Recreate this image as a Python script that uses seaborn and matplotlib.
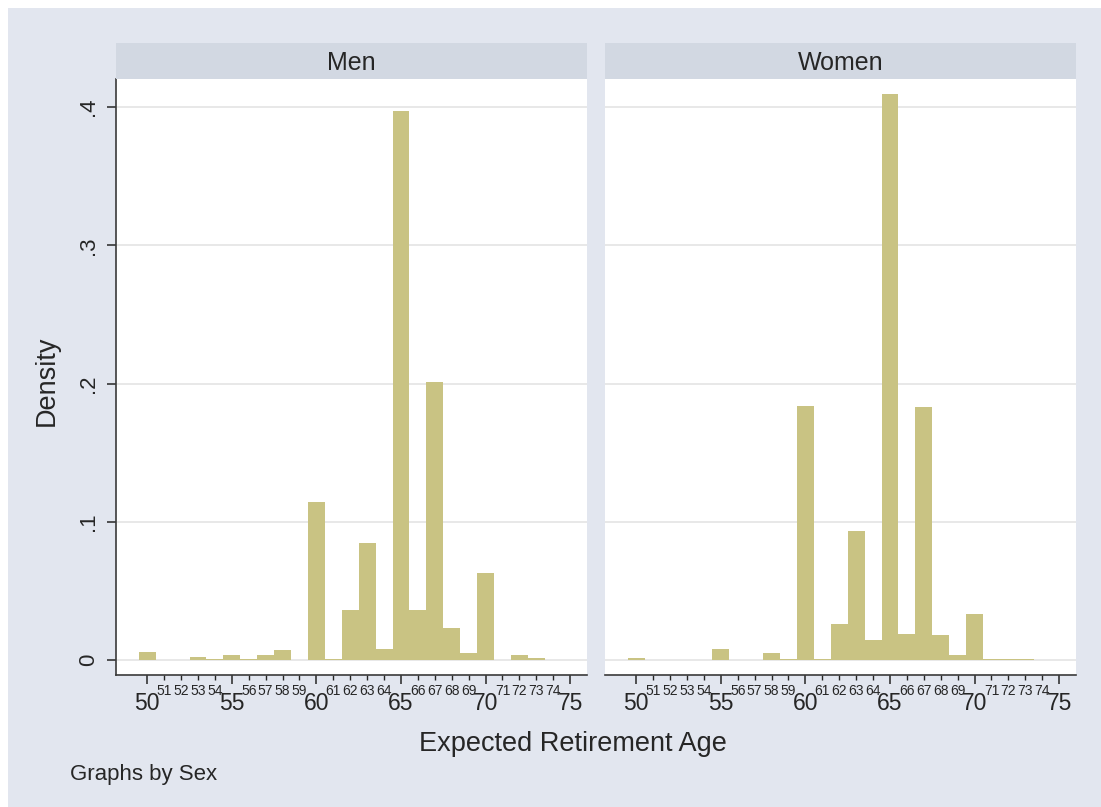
import numpy as np
import pandas as pd
import matplotlib
matplotlib.use("Agg")
import matplotlib.pyplot as plt
import seaborn as sns
from matplotlib.patches import Rectangle

# --- data (density per one-year bin) ---
ages = list(range(50, 76))
men = [0.0056, 0, 0, 0.002, 0.0007, 0.004, 0.001, 0.004, 0.0075, 0,
       0.1145, 0.001, 0.0362, 0.0849, 0.0078, 0.397, 0.0362, 0.2013, 0.023, 0.0053,
       0.0627, 0, 0.004, 0.0017, 0, 0]
women = [0.0012, 0, 0, 0, 0, 0.008, 0, 0, 0.005, 0.0005,
         0.1837, 0.001, 0.026, 0.0933, 0.0145, 0.4094, 0.0186, 0.1832, 0.018, 0.0036,
         0.033, 0.001, 0.001, 0.001, 0, 0]
panels = ["Men", "Women"]
major_ticks = [50, 55, 60, 65, 70, 75]
minor_ticks = [a for a in ages if a % 5 != 0]
y_ticks = [0, 0.1, 0.2, 0.3, 0.4]
y_labels = ["0", ".1", ".2", ".3", ".4"]

df = pd.DataFrame({
    "age": ages * 2,
    "density": men + women,
    "sex": ["Men"] * len(ages) + ["Women"] * len(ages),
})

sns.set_style("white")
plt.rcParams["font.family"] = ["Liberation Sans", "DejaVu Sans"]

W, H = 1101, 807
bg = "#e2e6ef"
strip_col = "#d2d8e2"
bar_col = "#c9c383"
ink = "#262626"

fig = plt.figure(figsize=(W / 100, H / 100), dpi=100)
fig.patch.set_facecolor("white")
fig.patches.append(Rectangle((8 / W, 0), 1 - 8 / W, 1 - 8 / H, transform=fig.transFigure,
                             facecolor=bg, edgecolor="none", zorder=-10))

lefts = [116 / W, 605 / W]
width = 471 / W
bottom = 132 / H
height = 596 / H

for i, name in enumerate(panels):
    ax = fig.add_axes([lefts[i], bottom, width, height])
    ax.set_facecolor("white")
    sub = df[df["sex"] == name]
    sns.histplot(data=sub, x="age", weights="density", discrete=True, ax=ax,
                 color=bar_col, alpha=1, linewidth=0, zorder=3)
    ax.set_xlim(48.15, 76.0)
    ax.set_ylim(-0.0108, 0.4203)
    ax.set_xlabel("")
    ax.set_ylabel("")

    for y in y_ticks:
        ax.axhline(y, color="#e6e6e6", linewidth=1.3, zorder=1)

    ax.set_xticks(major_ticks, [str(t) for t in major_ticks])
    ax.set_xticks(minor_ticks, [str(t) for t in minor_ticks], minor=True)
    ax.tick_params(axis="x", which="major", labelsize=16.5, length=6.5, width=1.1,
                   pad=6, colors=ink, direction="out", bottom=True)
    ax.tick_params(axis="x", which="minor", labelsize=10, length=3.6, width=1.0,
                   pad=3, colors=ink, direction="out", bottom=True)

    for s in ["top", "right"]:
        ax.spines[s].set_visible(False)
    ax.spines["bottom"].set_color("#3a3a3a")
    ax.spines["bottom"].set_linewidth(1.2)

    if i == 0:
        ax.set_yticks(y_ticks, y_labels)
        ax.tick_params(axis="y", labelsize=16, length=6.5, width=1.1, pad=6,
                       colors=ink, direction="out", left=True, labelrotation=90)
        for lab in ax.get_yticklabels():
            lab.set_va("center")
        ax.spines["left"].set_color("#3a3a3a")
        ax.spines["left"].set_linewidth(1.2)
    else:
        ax.set_yticks(y_ticks, [""] * len(y_ticks))
        ax.tick_params(axis="y", length=0)
        ax.spines["left"].set_visible(False)

    # strip header
    sx = fig.add_axes([lefts[i], 728 / H, width, 36 / H])
    sx.set_facecolor(strip_col)
    sx.set_xticks([])
    sx.set_yticks([])
    for s in sx.spines.values():
        s.set_visible(False)
    fig.text(lefts[i] + width / 2, (H - 70) / H, name, ha="center", va="baseline",
             fontsize=18, color=ink)

fig.text(47 / W, (H - 380.5) / H, "Density", rotation=90, ha="center", va="center",
         fontsize=19.5, color=ink)
fig.text(573 / W, (H - 751) / H, "Expected Retirement Age", ha="center", va="baseline",
         fontsize=19.5, color=ink)
fig.text(70 / W, (H - 780) / H, "Graphs by Sex", ha="left", va="baseline",
         fontsize=16, color=ink)

fig.savefig("out.png", dpi=100, facecolor=fig.get_facecolor())
